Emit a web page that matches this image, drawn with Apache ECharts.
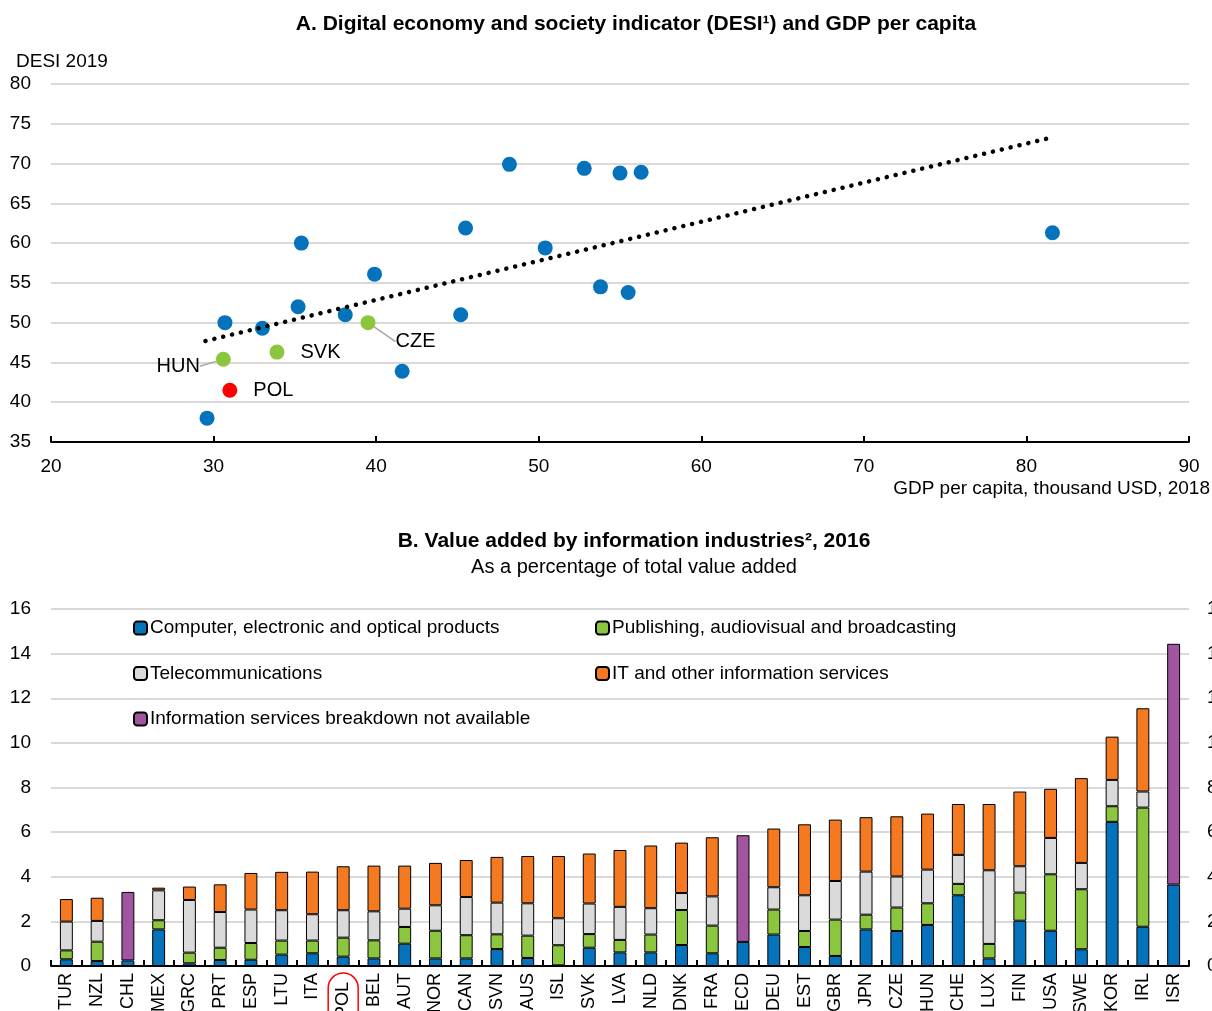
<!DOCTYPE html>
<html><head><meta charset="utf-8">
<script src="https://cdn.jsdelivr.net/npm/echarts@6/dist/echarts.min.js"></script>
<style>html,body{margin:0;padding:0;background:#fff}#c{width:1212px;height:1011px}</style>
</head><body><div id="c"></div>
<script>
const FONT = "'Liberation Sans Narrow','Arial Narrow','Liberation Sans',Arial,sans-serif";

// ---------- Panel A data ----------
const gdpOther  = [29.6, 30.7, 33.0, 35.2, 35.4, 38.1, 39.9, 41.6, 45.2, 45.5, 48.2, 50.4, 52.8, 53.8, 55.0, 55.5, 56.3, 81.6];
const desiOther = [38.0, 50.0, 49.3, 52.0, 60.0, 51.0, 56.1, 43.9, 51.0, 61.9, 69.9, 59.4, 69.4, 54.5, 68.8, 53.8, 68.9, 61.3];
const peerNames = ['HUN', 'SVK', 'CZE'];
const gdpPeers  = [30.6, 33.9, 39.5];
const desiPeers = [45.4, 46.3, 50.0];
const polNames  = ['POL'];
const gdpPol    = [31.0];
const desiPol   = [41.5];
const trendGdp  = [29.5, 81.6];
const trendDesi = [47.7, 73.3];
const xTicksA = [20, 30, 40, 50, 60, 70, 80, 90];
const yTicksA = [35, 40, 45, 50, 55, 60, 65, 70, 75, 80];

// ---------- Panel B data ----------
const countries = ['TUR','NZL','CHL','MEX','GRC','PRT','ESP','LTU','ITA','POL','BEL','AUT','NOR','CAN','SVN','AUS','ISL','SVK','LVA','NLD','DNK','FRA','OECD','DEU','EST','GBR','JPN','CZE','HUN','CHE','LUX','FIN','USA','SWE','KOR','IRL','ISR'];
const computer   = [0.30,0.22,0.25,1.64,0.12,0.27,0.28,0.51,0.57,0.42,0.34,1.00,0.34,0.34,0.76,0.36,0.03,0.82,0.61,0.61,0.94,0.57,1.08,1.41,0.85,0.45,1.64,1.57,1.84,3.17,0.34,2.03,1.58,0.75,6.46,1.76,3.65];
const publishing = [0.40,0.87,null,0.41,0.48,0.55,0.75,0.63,0.57,0.85,0.81,0.75,1.24,1.04,0.66,1.00,0.90,0.61,0.56,0.80,1.57,1.24,null,1.12,0.72,1.63,0.66,1.05,0.97,0.51,0.65,1.26,2.53,2.69,0.70,5.34,null];
const telecom    = [1.29,0.93,null,1.34,2.36,1.60,1.50,1.36,1.18,1.23,1.30,0.82,1.14,1.71,1.42,1.45,1.21,1.37,1.48,1.18,0.76,1.31,null,1.00,1.60,1.73,1.93,1.39,1.51,1.30,3.30,1.18,1.63,1.18,1.18,0.72,null];
const itServices = [1.01,1.04,null,0.12,0.60,1.24,1.64,1.72,1.91,1.97,2.05,1.93,1.90,1.66,2.05,2.12,2.79,2.24,2.55,2.81,2.26,2.65,null,2.63,3.18,2.75,2.44,2.70,2.51,2.28,2.97,3.35,2.20,3.80,1.94,3.73,null];
const notAvail   = [null,null,3.07,null,null,null,null,null,null,null,null,null,null,null,null,null,null,null,null,null,null,null,4.78,null,null,null,null,null,null,null,null,null,null,null,null,null,10.79];
const seriesNamesB = ['Computer, electronic and optical products','Publishing, audiovisual and broadcasting','Telecommunications','IT and other information services','Information services breakdown not available'];

const C = {blue:'#0573BC', green:'#8CC63F', gray:'#DADADA', orange:'#F47920', purple:'#A155A1', red:'#FF0000'};

const chart = echarts.init(document.getElementById('c'), null, {renderer:'canvas'});

const pairs = (xs, ys) => xs.map((x, i) => [x, ys[i]]);
const barBase = {type:'bar', stack:'b', xAxisIndex:1, yAxisIndex:1, barWidth:'42%'};
const barData = [computer, publishing, telecom, itServices, notAvail];
const barColors = [C.blue, C.green, C.gray, C.orange, C.purple];

const option = {
  animation:false,
  textStyle:{fontFamily:FONT, color:'#000'},
  title:[
    {text:'A. Digital economy and society indicator (DESI\u00b9) and GDP per capita', left:631, top:9, textAlign:'center',
     textStyle:{fontFamily:FONT, fontSize:21, fontWeight:'bold', color:'#000'}},
    {text:'DESI 2019', left:11, top:47, textStyle:{fontFamily:FONT, fontSize:19, fontWeight:'normal', color:'#000'}},
    {text:'B. Value added by information industries\u00b2, 2016', subtext:'As a percentage of total value added',
     left:629, top:526, textAlign:'center', itemGap:5,
     textStyle:{fontFamily:FONT, fontSize:21, fontWeight:'bold', color:'#000'},
     subtextStyle:{fontFamily:FONT, fontSize:20, color:'#000'}}
  ],
  legend:[
    {left:128, top:613, orient:'vertical', itemGap:25.5, itemWidth:13, itemHeight:13,
     textStyle:{fontFamily:FONT, fontSize:19, color:'#000', lineHeight:20, padding:[0,0,0,-2]},
     data:[seriesNamesB[0], seriesNamesB[2], seriesNamesB[4]]},
    {left:590, top:613, orient:'vertical', itemGap:25.5, itemWidth:13, itemHeight:13,
     textStyle:{fontFamily:FONT, fontSize:19, color:'#000', lineHeight:20, padding:[0,0,0,-2]},
     data:[seriesNamesB[1], seriesNamesB[3]]}
  ],
  grid:[
    {left:51, right:23, top:84, bottom:569, containLabel:false, outerBoundsMode:'none'},
    {left:51, right:23, top:609, bottom:45, containLabel:false, outerBoundsMode:'none'}
  ],
  xAxis:[
    {type:'value', gridIndex:0, min:xTicksA[0], max:xTicksA[xTicksA.length-1], interval:10,
     name:'GDP per capita, thousand USD, 2018', nameLocation:'end', nameGap:21,
     nameTextStyle:{fontFamily:FONT, fontSize:19, color:'#000', align:'right', verticalAlign:'top', padding:[37,0,0,0]},
     axisLine:{show:true, lineStyle:{color:'#000', width:2}},
     axisTick:{show:true, inside:true, length:6, lineStyle:{color:'#000', width:2}},
     axisLabel:{fontFamily:FONT, fontSize:19, color:'#000', margin:15},
     splitLine:{show:false}},
    {type:'category', gridIndex:1, data:countries,
     axisLine:{show:true, lineStyle:{color:'#000', width:2}},
     axisTick:{show:true, inside:true, length:6, interval:0, lineStyle:{color:'#000', width:2}},
     axisLabel:{interval:0, rotate:90, fontFamily:FONT, fontSize:18, color:'#000', margin:7,
       formatter: v => v === 'POL' ? '{hl|POL}' : v,
       rich:{hl:{fontFamily:FONT, fontSize:18, color:'#000', borderColor:'#FF0000', borderWidth:1.5, borderRadius:17, padding:[6,9,6,9]}}}}
  ],
  yAxis:[
    {type:'value', gridIndex:0, min:yTicksA[0], max:yTicksA[yTicksA.length-1], interval:5,
     axisLine:{show:false}, axisTick:{show:false},
     axisLabel:{fontFamily:FONT, fontSize:19, color:'#000', margin:20},
     splitLine:{show:true, lineStyle:{color:'#D9D9D9', width:2}}},
    {type:'value', gridIndex:1, min:0, max:16, interval:2,
     axisLine:{show:false}, axisTick:{show:false},
     axisLabel:{fontFamily:FONT, fontSize:19, color:'#000', margin:20},
     splitLine:{show:true, lineStyle:{color:'#D9D9D9', width:2}}},
    {type:'value', gridIndex:1, position:'right', min:0, max:16, interval:2,
     axisLine:{show:false}, axisTick:{show:false},
     axisLabel:{fontFamily:FONT, fontSize:19, color:'#000', margin:18},
     splitLine:{show:false}}
  ],
  series:[
    {type:'line', xAxisIndex:0, yAxisIndex:0, data:pairs(trendGdp, trendDesi), symbol:'none', silent:true,
     lineStyle:{color:'#000', width:4.5, type:[0.1, 9], cap:'round'}, z:3},
    {type:'scatter', xAxisIndex:0, yAxisIndex:0, data:pairs(gdpOther, desiOther), symbolSize:15,
     itemStyle:{color:C.blue, opacity:1}, z:2},
    {type:'scatter', xAxisIndex:0, yAxisIndex:0, symbolSize:15, itemStyle:{color:C.green, opacity:1}, z:4,
     data: pairs(gdpPeers, desiPeers).map((p, i) => ({value:p, name:peerNames[i],
        label:{position: peerNames[i]==='HUN' ? 'left' : 'right', distance: peerNames[i]==='CZE' ? 20 : 16},
        labelLine:{show: peerNames[i] !== 'SVK'}})),
     label:{show:true, formatter:'{b}', fontFamily:FONT, fontSize:20, color:'#000'},
     labelLine:{lineStyle:{color:'#A6A6A6', width:1.5}},
     labelLayout: function(p){
       const n = peerNames[p.dataIndex];
       if (n === 'HUN') return {dy:7};
       if (n === 'CZE') return {dx:0, dy:19};
       return {};
     }},
    {type:'scatter', xAxisIndex:0, yAxisIndex:0, symbolSize:15, itemStyle:{color:C.red, opacity:1}, z:4,
     data: pairs(gdpPol, desiPol).map((p, i) => ({value:p, name:polNames[i]})),
     label:{show:true, position:'right', distance:16, formatter:'{b}', fontFamily:FONT, fontSize:20, color:'#000'}},
    ...barData.map((d, i) => Object.assign({}, barBase, {
      name: seriesNamesB[i], data: d,
      itemStyle:{color:barColors[i], borderColor:'#000', borderWidth:1}
    }))
  ]
};
chart.setOption(option);
</script>
</body></html>
